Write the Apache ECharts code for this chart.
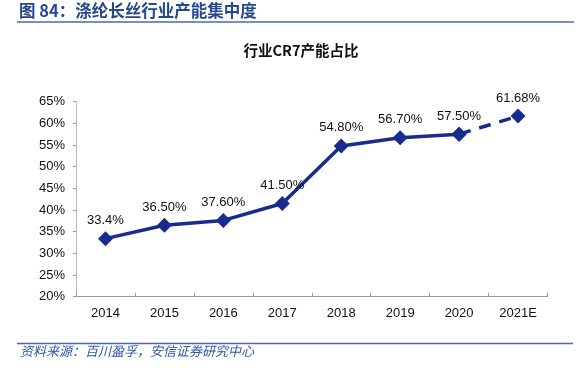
<!DOCTYPE html>
<html>
<head>
<meta charset="utf-8">
<script src="https://cdn.jsdelivr.net/npm/echarts@6/dist/echarts.min.js"></script>
<style>
html,body{margin:0;padding:0;background:#fff;}
#c{width:586px;height:371px;}
</style>
</head>
<body>
<div id="c"></div>
<script>
const categories = ['2014','2015','2016','2017','2018','2019','2020','2021E'];
const actualValues = [33.4, 36.5, 37.6, 41.5, 54.8, 56.7, 57.5, null];
const forecastValues = [null, null, null, null, null, null, 57.5, 61.68];
const valueLabels = ['33.4%','36.50%','37.60%','41.50%','54.80%','56.70%','57.50%','61.68%'];
const yTicks = [20, 25, 30, 35, 40, 45, 50, 55, 60, 65];

const blue = '#172C8E';
const chart = echarts.init(document.getElementById('c'), null, {renderer:'canvas'});
const font = '"Liberation Sans", Arial, sans-serif';
const cjk = '"Noto Sans CJK SC", sans-serif';

chart.setOption({
  animation: false,
  backgroundColor: '#fff',
  title: {
    text: '行业CR7产能占比',
    left: 296, top: 38, textAlign: 'center',
    textStyle: {fontFamily: cjk, fontSize: 14.5, fontWeight: 'bold', color: '#111'}
  },
  graphic: [
    {type:'text', left: 19, top: 2, style:{text:'图 84：涤纶长丝行业产能集中度', font:'bold 16.5px ' + cjk, fill:'#24478F'}},
    {type:'line', shape:{x1:17, y1:22, x2:574, y2:22}, style:{stroke:'#4A68A8', lineWidth:1.5}},
    {type:'line', shape:{x1:17, y1:343.5, x2:573, y2:343.5}, style:{stroke:'#4A68A8', lineWidth:1.5}},
    {type:'text', left: 20, top: 345, style:{text:'资料来源：百川盈孚，安信证券研究中心', font:'italic 13px ' + cjk, fill:'#2F56A6'}}
  ],
  grid: {left: 76, right: 38.5, top: 101.7, bottom: 74.3},
  xAxis: {
    type: 'category',
    data: categories,
    boundaryGap: true,
    axisLine: {show: true, lineStyle: {color: '#999', width: 1}},
    axisTick: {show: true, inside: true, length: 4, alignWithLabel: false, lineStyle: {color: '#999'}},
    axisLabel: {fontFamily: font, fontSize: 13, color: '#111', margin: 10}
  },
  yAxis: {
    type: 'value',
    min: 20, max: 65, interval: 5,
    axisLine: {show: true, lineStyle: {color: '#bbb', width: 1}},
    axisTick: {show: true, length: 3, lineStyle: {color: '#999'}},
    splitLine: {show: false},
    axisLabel: {fontFamily: font, fontSize: 13, color: '#111', margin: 11,
      formatter: v => yTicks.includes(v) ? v + '%' : ''}
  },
  series: [
    {
      type: 'line',
      data: actualValues,
      symbol: 'diamond',
      symbolSize: 15,
      lineStyle: {color: blue, width: 3.5},
      itemStyle: {color: blue},
      label: {show: true, position: 'top', distance: 4, fontFamily: font, fontSize: 13, color: '#111',
        formatter: p => valueLabels[p.dataIndex]}
    },
    {
      type: 'line',
      data: forecastValues,
      symbol: 'diamond',
      symbolSize: 15,
      lineStyle: {color: blue, width: 3.5, type: [12, 9]},
      itemStyle: {color: blue},
      label: {show: true, position: 'top', distance: 4, fontFamily: font, fontSize: 13, color: '#111',
        formatter: p => p.dataIndex === 7 ? valueLabels[p.dataIndex] : ''}
    }
  ]
});
</script>
</body>
</html>
